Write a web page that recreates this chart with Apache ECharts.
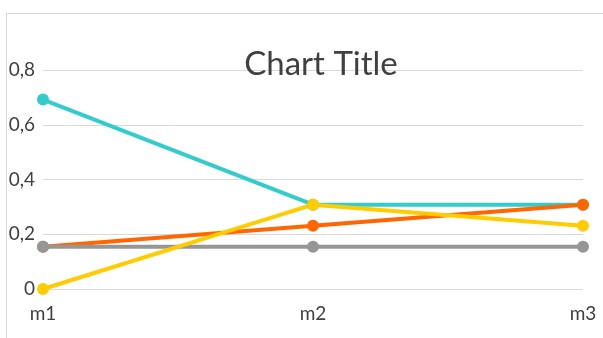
<!DOCTYPE html>
<html>
<head>
<meta charset="utf-8">
<script src="https://cdn.jsdelivr.net/npm/echarts@6/dist/echarts.min.js"></script>
<style>
  html, body { margin: 0; padding: 0; background: #fff; }
  #wrap { position: relative; width: 603px; height: 338px; overflow: hidden; }
  #frame {
    position: absolute; left: 6px; top: 13px; width: 700px; height: 400px;
    border-top: 1px solid #d9d9d9; border-left: 1px solid #d9d9d9;
  }
  #chart { position: absolute; left: 0; top: 0; width: 603px; height: 338px; }
</style>
</head>
<body>
<div id="wrap">
  <div id="frame"></div>
  <div id="chart"></div>
</div>
<script>
const categories = ['m1', 'm2', 'm3']
const tealValues = [0.692, 0.308, 0.308]
const orangeValues = [0.154, 0.231, 0.308]
const grayValues = [0.154, 0.154, 0.154]
const yellowValues = [0, 0.308, 0.231]

const chart = echarts.init(document.getElementById('chart'))
const font = 'Lato, "Open Sans", sans-serif'

function line(name, color, data) {
  return {
    name: name,
    type: 'line',
    symbol: 'circle',
    symbolSize: 12,
    itemStyle: { color: color },
    lineStyle: { color: color, width: 4 },
    emphasis: { disabled: true },
    data: data
  }
}

const option = {
  animation: false,
  title: {
    text: 'Chart Title',
    left: 320,
    textAlign: 'center',
    top: 43,
    textStyle: { color: '#404040', fontSize: 33, fontWeight: 'normal', fontFamily: font }
  },
  grid: { left: 43, right: 20, top: 70, bottom: 49 },
  xAxis: {
    type: 'category',
    boundaryGap: false,
    data: categories,
    axisLine: { show: false },
    axisTick: { show: false },
    axisLabel: { color: '#404040', fontSize: 19, fontFamily: font, margin: 15 }
  },
  yAxis: {
    type: 'value',
    min: 0,
    max: 0.8,
    interval: 0.2,
    axisLine: { show: false },
    axisTick: { show: false },
    splitLine: { lineStyle: { color: '#d9d9d9', width: 1 } },
    axisLabel: {
      color: '#404040',
      fontSize: 19,
      fontFamily: font,
      margin: 8,
      formatter: v => String(+v.toFixed(1)).replace('.', ',')
    }
  },
  series: [
    line('teal', '#33CCCC', tealValues),
    line('orange', '#FF6600', orangeValues),
    line('gray', '#969696', grayValues),
    line('yellow', '#FFCC00', yellowValues)
  ]
}
// title sits a few px left of where textAlign centre puts it
option.title.left = 316
chart.setOption(option)
</script>
</body>
</html>
